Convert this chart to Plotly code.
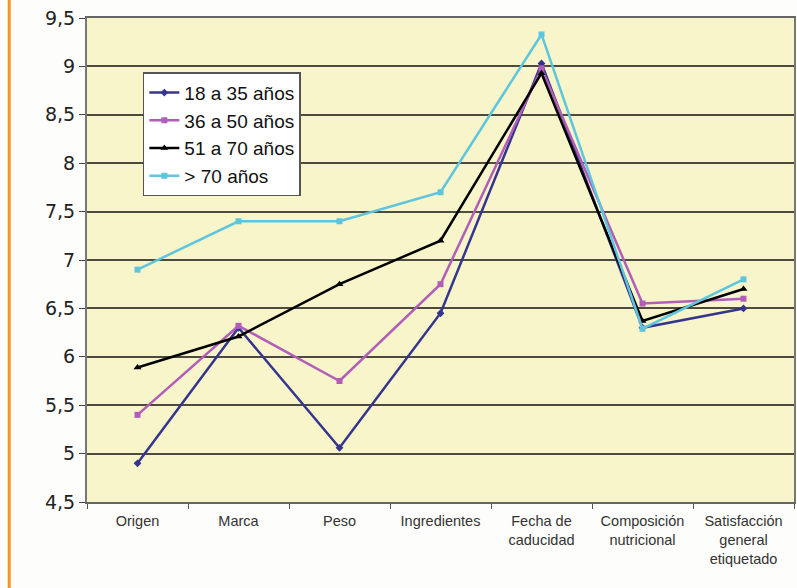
import plotly.graph_objects as go

categorias = ["Origen", "Marca", "Peso", "Ingredientes", "Fecha de<br>caducidad",
              "Composición<br>nutricional", "Satisfacción<br>general<br>etiquetado"]

edad_18_35 = [4.9, 6.3, 5.06, 6.45, 9.03, 6.3, 6.5]
edad_36_50 = [5.4, 6.32, 5.75, 6.75, 8.98, 6.55, 6.6]
edad_51_70 = [5.89, 6.21, 6.75, 7.2, 8.93, 6.37, 6.7]
edad_mas_70 = [6.9, 7.4, 7.4, 7.7, 9.33, 6.29, 6.8]

y_ticks = [4.5, 5, 5.5, 6, 6.5, 7, 7.5, 8, 8.5, 9, 9.5]
y_labels = ["4,5", "5", "5,5", "6", "6,5", "7", "7,5", "8", "8,5", "9", "9,5"]

series = [
    ("18 a 35 años", edad_18_35, "#35358f", "diamond", 6),
    ("36 a 50 años", edad_36_50, "#b25db8", "square", 6),
    ("51 a 70 años", edad_51_70, "#000000", "triangle-up", 7),
    ("> 70 años", edad_mas_70, "#5ec5df", "square", 6),
]

fig = go.Figure()
for nombre, valores, color, simbolo, tam in series:
    fig.add_trace(go.Scatter(
        x=categorias, y=valores, name=nombre, mode="lines+markers",
        line=dict(color=color, width=2.5),
        marker=dict(symbol=simbolo, size=tam, color=color),
    ))

# orange rule down the left side of the page
fig.add_shape(type="line", xref="paper", yref="paper",
              x0=-78 / 709, x1=-78 / 709, y0=-86 / 484, y1=1 + 18 / 484,
              line=dict(color="#f7941d", width=3))

fig.update_layout(
    width=797, height=588,
    margin=dict(l=87, r=1, t=18, b=86),
    paper_bgcolor="#fdfdfb",
    plot_bgcolor="#f7f5c9",
    font=dict(family="DejaVu Sans, sans-serif", color="#222222"),
    showlegend=True,
    legend=dict(
        x=0.079, y=0.888, xanchor="left", yanchor="top",
        bgcolor="#ffffff", bordercolor="#555555", borderwidth=1.5,
        font=dict(family="Liberation Sans, Arial, sans-serif", size=19, color="#111111"),
        tracegroupgap=0, itemwidth=30,
    ),
    xaxis=dict(
        type="category", range=[-0.5, 6.5],
        tickson="boundaries", ticks="outside", ticklen=5, tickcolor="#555555",
        showgrid=False, showline=True, linecolor="#666666", linewidth=2,
        mirror=True,
        tickfont=dict(family="Liberation Sans, Arial, sans-serif", size=14.5, color="#333333"),
        ticklabelstandoff=5, fixedrange=True,
    ),
    yaxis=dict(
        range=[4.5, 9.5], tickvals=y_ticks, ticktext=y_labels,
        ticks="outside", ticklen=6, tickcolor="#444444",
        showgrid=True, gridcolor="#4d4a3e", gridwidth=2,
        showline=True, linecolor="#777777", linewidth=2, mirror=True,
        tickfont=dict(size=19, color="#222222"), zeroline=False,
    ),
)

fig.write_html("out.html")
